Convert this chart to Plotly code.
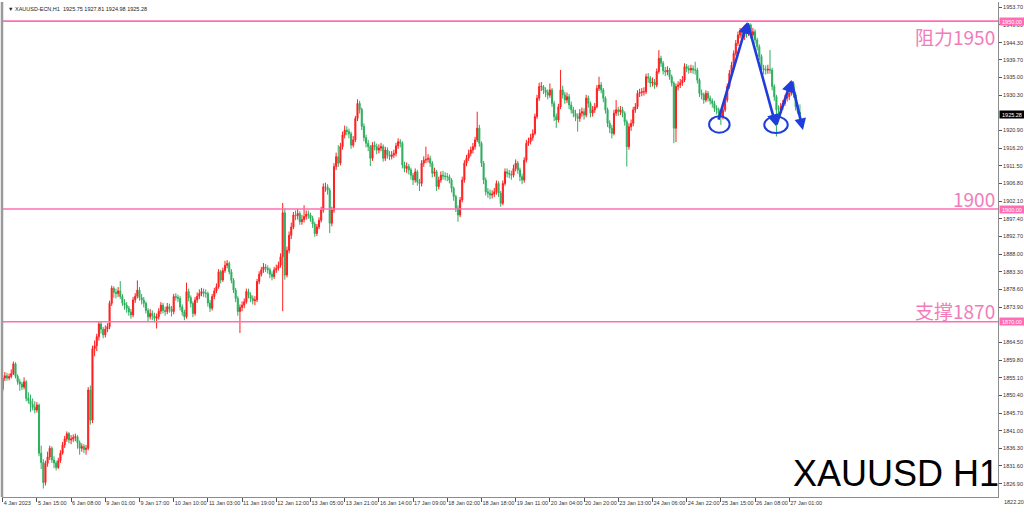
import plotly.graph_objects as go

# ---------------- data ----------------
first_open = 1852.0
closes = [
    1855.0,1855.6,1855.0,1855.4,1856.2,1858.8,1855.4,1854.0,1853.4,1852.6,
    1854.0,1849.6,1849.0,1848.0,1847.2,1846.5,1847.8,1835.0,1832.5,1827.2,
    1832.3,1834.0,1836.3,1833.2,1832.4,1831.2,1833.0,1835.0,1837.2,1838.8,
    1840.2,1838.5,1838.8,1839.2,1839.4,1837.8,1836.3,1836.8,1836.0,1836.3,
    1851.8,1843.8,1862.8,1863.6,1866.0,1869.4,1868.0,1866.5,1868.0,1868.7,
    1874.9,1878.9,1877.8,1877.5,1878.2,1876.7,1875.0,1874.4,1873.6,1872.6,
    1871.8,1875.8,1876.8,1878.4,1876.4,1875.8,1874.9,1873.0,1871.3,1872.2,
    1871.6,1870.9,1871.3,1872.8,1874.4,1873.0,1872.7,1874.0,1873.4,1872.7,
    1876.7,1876.5,1876.2,1873.9,1872.6,1871.3,1878.0,1876.4,1874.9,1872.2,
    1875.8,1876.8,1877.5,1878.0,1877.6,1877.5,1875.0,1873.6,1876.7,1878.2,
    1879.3,1883.3,1881.1,1883.6,1885.0,1885.5,1883.3,1881.0,1878.4,1876.2,
    1872.7,1873.8,1874.4,1875.3,1878.0,1877.0,1876.2,1875.6,1875.8,1880.7,
    1882.6,1883.8,1884.6,1884.2,1883.8,1882.6,1882.0,1883.8,1884.2,1885.0,
    1887.3,1899.0,1882.4,1889.0,1893.0,1895.2,1898.4,1898.2,1898.8,1896.6,
    1897.2,1898.0,1898.6,1898.4,1897.5,1896.0,1893.5,1895.2,1897.0,1899.7,
    1905.9,1905.9,1905.0,1896.2,1899.7,1911.3,1913.9,1912.2,1916.6,1919.7,
    1921.0,1920.6,1920.0,1917.0,1918.4,1924.1,1928.1,1926.5,1922.0,1919.0,
    1917.5,1916.6,1913.5,1917.0,1916.6,1915.7,1916.2,1916.6,1913.5,1915.7,
    1914.4,1914.0,1914.4,1914.8,1916.8,1917.9,1917.5,1911.7,1910.8,1911.3,
    1910.4,1909.0,1907.7,1909.9,1907.2,1906.8,1912.2,1913.0,1913.2,1913.5,
    1912.2,1909.5,1909.9,1906.0,1907.7,1909.0,1908.8,1908.6,1908.6,1907.7,
    1905.5,1903.3,1900.2,1898.4,1902.4,1907.7,1912.2,1913.5,1914.8,1915.7,
    1916.6,1918.4,1921.5,1917.5,1912.2,1907.7,1904.6,1904.2,1903.7,1904.0,
    1904.6,1906.8,1904.2,1901.5,1906.8,1909.9,1909.5,1909.3,1909.0,1910.8,
    1912.2,1910.4,1908.6,1907.7,1913.0,1917.5,1918.0,1919.0,1920.1,1924.6,
    1929.5,1932.6,1932.6,1931.7,1931.0,1930.3,1931.7,1928.1,1924.6,1923.7,
    1927.2,1931.7,1930.4,1929.0,1929.9,1927.7,1926.4,1925.5,1924.6,1924.1,
    1925.5,1925.9,1925.0,1929.5,1928.1,1925.5,1926.4,1927.2,1932.1,1933.0,
    1931.7,1929.5,1926.4,1922.8,1921.5,1920.1,1925.5,1926.4,1925.9,1926.4,
    1925.5,1923.2,1916.6,1921.9,1922.8,1926.4,1927.2,1930.8,1931.0,1931.2,
    1931.2,1935.2,1934.8,1933.5,1933.8,1933.0,1936.6,1940.1,1938.8,1936.8,
    1936.5,1937.0,1935.2,1933.5,1921.5,1932.6,1933.0,1933.6,1934.3,1937.9,
    1937.4,1937.0,1937.4,1937.0,1937.0,1934.3,1930.8,1930.4,1929.0,1930.8,
    1929.5,1928.8,1928.1,1926.8,1926.4,1925.5,1924.6,1926.4,1929.0,1932.6,
    1936.1,1938.3,1941.4,1944.1,1946.3,1947.2,1945.9,1948.1,1946.8,1949.0,
    1946.3,1947.2,1945.0,1943.2,1940.6,1937.4,1937.0,1937.0,1937.2,1937.0,
    1932.6,1929.9,1926.4,1926.4,1927.2,1928.1,1929.5,1929.9,1930.8,1933.5,
    1930.4,1927.2,1925.75,1925.28,
]
highs = [
    1855.8,1856.6,1856.4,1856.2,1857.3,1859.4,1859.2,1856.0,1854.8,1854.0,
    1855.2,1854.4,1851.2,1850.6,1849.6,1848.8,1848.6,1848.2,1837.0,1833.4,
    1833.0,1835.4,1837.0,1836.8,1834.2,1833.0,1833.8,1835.8,1838.0,1839.6,
    1840.8,1840.6,1839.8,1840.0,1840.2,1839.8,1838.4,1837.6,1837.4,1837.2,
    1852.6,1853.0,1863.6,1865.0,1866.8,1870.0,1870.2,1868.6,1869.0,1869.6,
    1875.6,1879.6,1879.4,1878.8,1879.2,1880.8,1877.4,1876.0,1875.2,1874.2,
    1873.4,1876.6,1877.6,1881.0,1879.2,1877.4,1876.6,1875.4,1873.6,1873.4,
    1873.0,1872.4,1872.2,1873.6,1875.2,1875.0,1874.0,1875.0,1874.8,1874.2,
    1877.4,1877.6,1877.2,1876.8,1874.6,1873.2,1880.4,1878.8,1877.0,1875.4,
    1876.6,1877.8,1878.6,1879.0,1878.8,1878.6,1878.0,1875.8,1877.4,1879.0,
    1880.2,1884.0,1883.8,1884.4,1886.2,1886.4,1886.0,1884.0,1881.6,1879.0,
    1876.8,1874.6,1875.4,1876.2,1878.8,1878.8,1877.8,1877.0,1876.8,1881.4,
    1883.4,1884.6,1885.6,1885.4,1885.0,1884.4,1883.4,1884.6,1885.2,1886.0,
    1888.2,1901.6,1900.2,1890.0,1894.0,1896.4,1899.2,1899.6,1900.0,1899.4,
    1898.4,1901.0,1899.6,1899.6,1899.0,1898.2,1896.6,1896.0,1897.8,1900.6,
    1906.8,1907.0,1906.6,1905.6,1900.6,1912.2,1915.0,1917.0,1917.6,1920.6,
    1922.2,1922.0,1921.4,1920.6,1919.4,1924.8,1929.2,1928.8,1927.0,1922.8,
    1919.8,1918.4,1917.0,1917.8,1918.0,1917.4,1917.2,1917.6,1917.2,1916.6,
    1916.4,1915.4,1915.4,1915.8,1917.6,1918.8,1918.6,1918.0,1912.6,1912.4,
    1912.0,1911.0,1909.6,1910.8,1910.4,1908.0,1913.0,1914.0,1916.6,1914.6,
    1914.2,1912.8,1911.0,1910.4,1908.6,1910.0,1910.2,1909.8,1909.6,1909.2,
    1908.2,1906.0,1903.8,1901.0,1903.2,1908.6,1913.0,1914.4,1915.8,1916.6,
    1917.6,1919.2,1925.9,1922.4,1918.0,1912.8,1908.4,1905.6,1905.2,1905.0,
    1905.6,1907.6,1907.4,1904.8,1907.6,1910.8,1910.8,1910.4,1910.2,1911.8,
    1913.2,1912.8,1911.0,1909.4,1913.8,1918.4,1919.0,1920.0,1921.2,1925.4,
    1930.4,1933.6,1933.8,1933.0,1932.4,1931.8,1933.4,1932.2,1928.8,1925.4,
    1928.0,1937.0,1932.8,1931.2,1931.0,1930.6,1928.6,1927.2,1926.4,1925.4,
    1926.6,1927.0,1926.8,1930.4,1930.2,1928.6,1927.4,1928.2,1933.0,1935.2,
    1933.8,1932.2,1930.0,1927.0,1923.6,1922.4,1926.4,1929.0,1927.2,1927.4,
    1927.2,1926.0,1923.8,1922.8,1923.8,1927.2,1928.2,1931.6,1932.0,1932.2,
    1932.4,1936.0,1936.2,1935.4,1935.0,1934.6,1937.4,1942.3,1940.8,1939.4,
    1937.8,1938.0,1937.6,1935.8,1934.0,1933.4,1934.0,1934.6,1935.4,1938.8,
    1938.6,1938.2,1938.4,1938.2,1939.2,1937.6,1934.8,1931.8,1931.0,1931.6,
    1931.4,1930.2,1929.4,1928.8,1927.6,1927.0,1926.2,1927.2,1929.8,1933.4,
    1937.0,1939.2,1942.2,1945.0,1947.2,1948.2,1948.0,1948.8,1948.8,1949.5,
    1949.4,1948.2,1947.8,1945.6,1943.8,1941.2,1938.4,1938.2,1938.4,1942.3,
    1937.6,1933.2,1930.4,1927.6,1928.2,1929.0,1930.4,1931.0,1931.8,1934.2,
    1934.0,1931.0,1928.0,1927.81,
]
lows = [
    1851.4,1854.2,1854.3,1854.4,1854.9,1855.8,1854.9,1853.2,1851.6,1851.8,
    1852.0,1848.8,1848.2,1846.0,1846.4,1845.6,1845.8,1834.2,1830.8,1825.6,
    1826.4,1831.4,1833.2,1832.4,1831.0,1830.4,1830.8,1832.4,1834.6,1836.4,
    1838.0,1837.6,1837.4,1838.0,1838.2,1836.2,1834.6,1835.4,1835.0,1834.6,
    1835.8,1842.6,1843.0,1860.8,1862.2,1865.0,1866.8,1865.6,1865.8,1867.2,
    1868.0,1874.2,1876.4,1876.2,1876.6,1876.0,1874.2,1873.2,1872.4,1871.6,
    1870.8,1871.2,1875.0,1876.2,1875.6,1874.6,1873.8,1872.2,1870.0,1870.6,
    1870.4,1869.8,1868.2,1870.6,1872.0,1872.2,1871.6,1872.0,1872.4,1871.4,
    1872.0,1875.6,1875.2,1873.0,1871.6,1870.4,1870.8,1875.4,1873.8,1871.2,
    1871.6,1875.0,1876.0,1876.8,1876.6,1876.4,1874.0,1872.6,1873.0,1876.0,
    1877.6,1878.8,1880.2,1880.6,1883.0,1884.2,1882.6,1880.2,1877.6,1875.2,
    1871.6,1867.0,1872.8,1873.6,1874.8,1876.2,1875.2,1874.6,1874.4,1875.2,
    1880.0,1882.0,1883.0,1883.2,1882.8,1881.6,1881.0,1881.4,1883.0,1883.6,
    1884.4,1872.8,1881.2,1881.8,1888.2,1892.0,1894.6,1897.0,1897.2,1895.8,
    1895.8,1896.4,1897.2,1897.4,1896.6,1895.0,1892.6,1892.8,1894.6,1896.4,
    1899.0,1904.6,1903.8,1893.6,1895.4,1899.0,1910.4,1911.2,1911.6,1915.8,
    1918.8,1919.6,1918.8,1916.0,1916.4,1917.8,1923.4,1925.4,1921.0,1918.0,
    1916.4,1915.4,1911.4,1912.8,1915.6,1914.6,1914.8,1915.4,1912.6,1912.8,
    1913.4,1913.0,1913.2,1913.6,1914.0,1916.0,1916.4,1910.8,1909.8,1909.6,
    1909.2,1907.8,1906.4,1907.0,1906.2,1904.8,1906.0,1911.2,1912.2,1912.4,
    1911.2,1908.4,1908.6,1904.8,1905.2,1907.0,1907.8,1907.6,1907.4,1906.8,
    1904.4,1902.2,1899.2,1896.6,1897.8,1901.8,1907.0,1911.4,1912.8,1914.0,
    1914.8,1915.8,1917.8,1916.6,1911.2,1906.6,1903.6,1903.0,1902.6,1902.8,
    1903.2,1903.8,1903.2,1900.6,1901.0,1906.2,1908.4,1908.2,1907.8,1908.4,
    1910.0,1909.4,1907.4,1906.6,1907.0,1912.4,1916.8,1917.2,1918.2,1919.6,
    1924.0,1928.8,1931.4,1930.6,1929.8,1929.2,1929.6,1927.2,1923.4,1921.6,
    1923.0,1926.6,1929.4,1928.0,1928.2,1926.6,1925.4,1924.4,1923.4,1920.6,
    1923.2,1924.6,1923.8,1924.4,1927.0,1924.4,1924.6,1925.6,1926.8,1931.4,
    1930.8,1928.4,1925.4,1921.8,1920.2,1918.8,1919.6,1924.8,1924.8,1925.0,
    1924.4,1922.2,1911.3,1915.8,1920.8,1922.0,1925.6,1926.6,1929.8,1930.0,
    1930.2,1930.6,1933.6,1932.4,1932.6,1932.0,1932.4,1936.0,1937.8,1935.8,
    1935.4,1935.6,1934.4,1932.6,1917.5,1917.8,1931.6,1932.2,1932.8,1933.8,
    1936.4,1936.0,1936.2,1936.0,1935.8,1933.4,1929.8,1929.2,1928.0,1928.4,
    1928.6,1927.8,1927.0,1925.8,1925.2,1924.4,1922.4,1923.8,1925.8,1928.4,
    1932.0,1935.4,1937.6,1940.8,1943.4,1945.4,1944.8,1945.0,1945.6,1946.0,
    1945.4,1945.6,1944.0,1942.2,1939.6,1936.4,1935.8,1935.8,1936.0,1936.0,
    1931.6,1928.8,1919.3,1924.8,1925.6,1926.4,1927.4,1928.6,1929.0,1930.2,
    1929.6,1926.2,1925.2,1924.98,
]
opens = [first_open] + closes[:-1]
bars = list(range(len(closes)))

x_tick_labels = ["4 Jan 2023", "5 Jan 15:00", "6 Jan 08:00", "9 Jan 01:00", "9 Jan 17:00",
                 "10 Jan 10:00", "11 Jan 03:00", "11 Jan 19:00", "12 Jan 12:00", "13 Jan 05:00",
                 "13 Jan 21:00", "16 Jan 14:00", "17 Jan 09:00", "18 Jan 02:00", "18 Jan 18:00",
                 "19 Jan 11:00", "20 Jan 04:00", "20 Jan 20:00", "23 Jan 13:00", "24 Jan 06:00",
                 "24 Jan 22:00", "25 Jan 15:00", "26 Jan 08:00", "27 Jan 01:00"]
bars_per_label = 16

y_tick_values = [1953.70, 1949.00, 1944.30, 1939.70, 1935.00, 1930.30, 1920.90, 1916.20,
                 1911.50, 1906.80, 1902.10, 1897.40, 1892.70, 1888.00, 1883.30, 1878.60,
                 1873.90, 1864.50, 1859.80, 1855.10, 1850.40, 1845.70, 1841.00, 1836.30,
                 1831.60, 1826.90]
bottom_tick = 1822.20

levels = [1950.0, 1900.0, 1870.0]
level_texts = ["阻力1950", "1900", "支撑1870"]
level_text_shift = [-15, 11, 11]
last_price = 1925.28
header = "XAUUSD-ECN,H1  1925.75 1927.81 1924.98 1925.28"

# hand-drawn pattern (bar index, price)
pattern_x = [334.7, 348.4, 361.8, 369.0, 374.4]
pattern_y = [1923.4, 1949.8, 1922.1, 1934.3, 1921.0]
circles = [(335.3, 1922.5, 4.8, 2.2), (361.8, 1922.4, 5.5, 2.2)]

assert len(closes) == len(highs) == len(lows)

# ---------------- style ----------------
RED = "#ff1f1f"
GREEN = "#2fae5f"
PINK = "#ff6eb4"
PINK_TXT = "#f27cba"
BLUE = "#1f3ddc"
GRID = "#8c8c8c"
X0, X1 = -0.33, 465.67
Y0, Y1 = 1823.34, 1955.1

fig = go.Figure()
fig.add_trace(go.Candlestick(
    x=bars, open=opens, high=highs, low=lows, close=closes,
    increasing=dict(line=dict(color=RED, width=1), fillcolor=RED),
    decreasing=dict(line=dict(color=GREEN, width=1), fillcolor=GREEN),
    whiskerwidth=0, showlegend=False, hoverinfo="skip",
))

shapes = []
for lv in levels:
    shapes.append(dict(type="line", xref="paper", x0=0, x1=1, yref="y", y0=lv, y1=lv,
                       line=dict(color=PINK, width=1.6), layer="above"))
# left frame
shapes.append(dict(type="line", xref="paper", x0=0, x1=0, yref="paper", y0=0, y1=1,
                   line=dict(color="#9a9a9a", width=2.5)))
for cx, cy, rx, ry in circles:
    shapes.append(dict(type="circle", xref="x", yref="y", x0=cx - rx, x1=cx + rx,
                       y0=cy - ry, y1=cy + ry, line=dict(color=BLUE, width=2)))

annotations = []
for k in range(1, len(pattern_x)):
    annotations.append(dict(x=pattern_x[k], y=pattern_y[k], ax=pattern_x[k - 1], ay=pattern_y[k - 1],
                            xref="x", yref="y", axref="x", ayref="y", text="", showarrow=True,
                            arrowhead=2, arrowsize=0.9, arrowwidth=2.6, arrowcolor=BLUE))
# level texts
for lv, t, sh in zip(levels, level_texts, level_text_shift):
    annotations.append(dict(x=0.9985, xref="paper", y=lv, yref="y", yshift=sh, text=t,
                            showarrow=False, xanchor="right", yanchor="middle",
                            font=dict(family="Noto Sans CJK SC", size=19, color=PINK_TXT)))
    annotations.append(dict(x=1.0, xref="paper", y=lv, yref="y", text=f"{lv:.2f}",
                            showarrow=False, xanchor="left", yanchor="middle", xshift=1,
                            bgcolor=PINK, borderpad=0, width=24, height=7,
                            font=dict(family="Liberation Sans", size=5.5, color="white")))
annotations.append(dict(x=1.0, xref="paper", y=last_price, yref="y", text=f"{last_price:.2f}",
                        showarrow=False, xanchor="left", yanchor="middle", xshift=1,
                        bgcolor="#000000", borderpad=0, width=24, height=7,
                        font=dict(family="Liberation Sans", size=5.5, color="white")))
annotations.append(dict(x=1.0, xref="paper", y=0, yref="paper", yshift=-5, text=f"{bottom_tick:.2f}",
                        showarrow=False, xanchor="left", yanchor="middle", xshift=4,
                        font=dict(family="Liberation Sans", size=5.5, color="#333333")))
annotations.append(dict(x=0.004, xref="paper", y=0.995, yref="paper", text="▼ " + header,
                        showarrow=False, xanchor="left", yanchor="top",
                        font=dict(family="Liberation Sans", size=5.5, color="#222222")))
annotations.append(dict(x=1.003, xref="paper", y=0.0, yref="paper", yshift=1, text="XAUUSD H1",
                        showarrow=False, xanchor="right", yanchor="bottom",
                        font=dict(family="Liberation Sans", size=36, color="#000000")))

fig.update_layout(
    width=1024, height=514,
    margin=dict(l=2, r=26, t=2, b=17, autoexpand=False),
    paper_bgcolor="white", plot_bgcolor="white",
    shapes=shapes, annotations=annotations,
    xaxis=dict(range=[X0, X1], rangeslider=dict(visible=False), showgrid=False, zeroline=False,
               tickvals=[bars_per_label * k for k in range(len(x_tick_labels))],
               ticktext=x_tick_labels, ticks="outside", ticklen=4, tickcolor="#555",
               ticklabelposition="outside right", tickangle=0, automargin=False,
               tickfont=dict(family="Liberation Sans", size=5.5, color="#333333"),
               showline=True, linecolor=GRID, linewidth=1),
    yaxis=dict(range=[Y0, Y1], side="right", showgrid=False, zeroline=False, automargin=False,
               tickvals=y_tick_values, ticktext=[f"{v:.2f}" for v in y_tick_values],
               ticks="outside", ticklen=3, tickcolor="#555",
               tickfont=dict(family="Liberation Sans", size=5.5, color="#333333"),
               showline=True, linecolor=GRID, linewidth=1),
)

fig.write_html("out.html", config={"displayModeBar": False},
               post_script="document.body.style.margin='0';document.body.style.overflow='hidden';")
